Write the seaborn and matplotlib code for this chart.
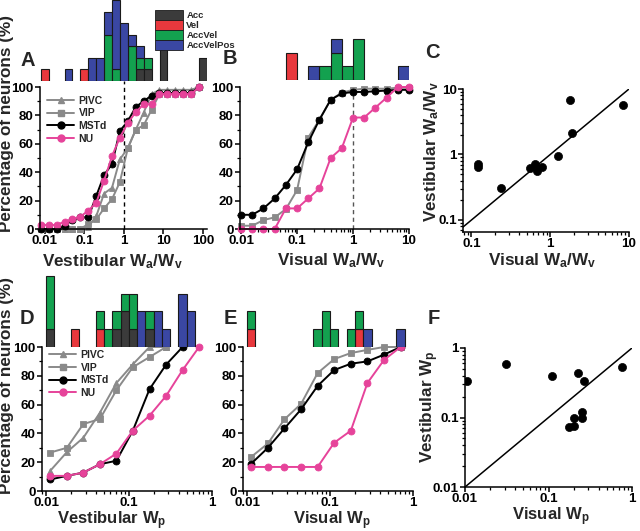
import numpy as np
import matplotlib
matplotlib.use('Agg')
import matplotlib.pyplot as plt
import seaborn as sns
from matplotlib.patches import Patch
from matplotlib.lines import Line2D
from matplotlib.ticker import FixedLocator, LogLocator, NullFormatter, MultipleLocator

sns.set_style('ticks')
plt.rcParams['font.family'] = ['Liberation Sans', 'DejaVu Sans']
plt.rcParams['font.weight'] = 'bold'
plt.rcParams['axes.labelweight'] = 'bold'
plt.rcParams['mathtext.fontset'] = 'custom'
plt.rcParams['mathtext.rm'] = 'Liberation Sans:bold'
plt.rcParams['mathtext.it'] = 'Liberation Sans:bold'
plt.rcParams['mathtext.bf'] = 'Liberation Sans:bold'

# ---------------- data ----------------
# Panel A: vestibular Wa/Wv cumulative distributions
A_x = [0.0079, 0.0126, 0.02, 0.0316, 0.05, 0.079, 0.126, 0.2, 0.316, 0.5, 0.79,
       1.26, 2.0, 3.16, 5.0, 7.9, 12.6, 20, 31.6, 50, 79]
A_pivc = [0, 0, 0, 0, 0, 0, 1.6, 9, 25, 29, 49, 57, 70, 82, 95, 98, 98, 98, 98, 98, 100]
A_vip = [0, 0, 0, 0, 0, 0, 3.5, 6.8, 14.5, 21, 33, 57, 70, 73, 84, 95, 95, 95, 95, 95, 100]
A_mstd = [0, 0, 0, 2.3, 6.3, 8.2, 8.2, 23.2, 38, 45.7, 69, 76, 86, 90, 94, 95.8, 95.8, 95.8, 95.8, 95.8, 100]
A_nu = [2.8, 2.8, 2.8, 5.2, 6.8, 8.7, 12.9, 18.5, 34, 51.3, 64.4, 74.7, 82.4, 87.8, 87.8, 95, 95, 95, 95, 95, 100]

# Panel A histogram (log10 left bin edges, width 0.2 decade)
A_bins = [-2.1, -1.5, -1.1, -0.9, -0.7, -0.5, -0.3, -0.1, 0.1, 0.3, 0.5, 0.9, 1.9]
A_acc = [0, 0, 0, 0, 0, 0, 0, 0, 0, 1, 1, 3, 2]
A_vel = [1, 0, 1, 0, 0, 0, 0, 0, 0, 0, 0, 0, 0]
A_accvel = [0, 0, 0, 0, 0, 4, 1, 0, 3, 1, 1, 0, 0]
A_avp = [0, 1, 0, 2, 2, 2, 6, 5, 1, 1, 0, 0, 0]

# Panel B: visual Wa/Wv
B_x = [0.01, 0.0158, 0.0251, 0.0398, 0.0631, 0.1, 0.158, 0.251, 0.398, 0.631,
       1.0, 1.58, 2.51, 3.98, 6.31, 10]
B_vip = [2.3, 2.3, 6.3, 8.2, 14, 27.4, 64.4, 77, 91, 96, 98, 98.8, 98.8, 98.8, 99.5, 99.5]
B_mstd = [10, 10, 14.5, 21.5, 31, 42, 61, 77, 91, 95.5, 96.5, 96.5, 97, 97.5, 98, 98]
B_nu = [0, 0, 0, 0, 14.5, 14.5, 21.5, 28.6, 50, 57, 78.5, 78.5, 85.5, 92.5, 100, 100]

B_bins = [-1.2, -0.8, -0.6, -0.4, -0.2, 0.0, 0.8]
B_acc = [0, 0, 0, 0, 0, 0, 0]
B_vel = [2, 0, 0, 0, 0, 0, 0]
B_accvel = [0, 0, 1, 2, 1, 3, 0]
B_avp = [0, 1, 0, 1, 0, 0, 1]

# Panel C: visual vs vestibular Wa/Wv
C_vis = [0.12, 0.12, 0.24, 0.56, 0.64, 0.67, 0.78, 1.26, 1.79, 1.88, 8.3]
C_ves = [0.71, 0.65, 0.31, 0.63, 0.71, 0.56, 0.65, 0.95, 6.85, 2.15, 5.74]

# Panel D: vestibular Wp
D_x = [0.0112, 0.0178, 0.0282, 0.0447, 0.0708, 0.112, 0.178, 0.282, 0.447, 0.708]
D_pivc = [14, 27, 37, 54.4, 75, 88, 100, 100]
D_vip = [26.7, 30, 46.5, 50, 70, 86, 93, 100]
D_mstd = [8, 10.5, 12.8, 18.6, 21, 42, 70.7, 87.7, 100]
D_nu = [10.5, 10.5, 12.8, 18.6, 26, 42, 52.3, 66, 84, 100]

D_bins = [-2.0, -1.7, -1.4, -1.3, -1.2, -1.1, -1.0, -0.9, -0.8, -0.7, -0.6, -0.4, -0.3]
D_acc = [1, 0, 0, 0, 1, 2, 1, 0, 1, 0, 0, 0, 0]
D_vel = [0, 1, 1, 0, 0, 0, 0, 0, 0, 0, 0, 0, 0]
D_accvel = [3, 0, 1, 1, 1, 1, 2, 0, 1, 0, 0, 0, 0]
D_avp = [0, 0, 0, 0, 0, 0, 0, 2, 0, 2, 1, 3, 2]

# Panel E: visual Wp
E_vip = [23.7, 33, 49.8, 60.5, 81.9, 91.6, 95.8, 98, 100, 100]
E_mstd = [19, 30, 43.5, 56.7, 73, 84, 88.4, 90, 94.7, 100]
E_nu = [16.7, 16.7, 16.7, 16.7, 16.7, 33.5, 41.9, 75, 91, 100]

E_bins = [-2.0, -1.2, -1.1, -1.0, -0.8, -0.7, -0.6, -0.2]
E_acc = [0, 0, 0, 0, 0, 0, 0, 0]
E_vel = [1, 0, 0, 0, 0, 1, 0, 0]
E_accvel = [1, 1, 2, 1, 1, 1, 0, 0]
E_avp = [0, 0, 0, 0, 0, 0, 1, 1]

# Panel F: visual vs vestibular Wp
F_vis = [0.0105, 0.031, 0.11, 0.223, 0.263, 0.75, 0.25, 0.25, 0.203, 0.203, 0.174]
F_ves = [0.337, 0.58, 0.40, 0.435, 0.337, 0.525, 0.121, 0.10, 0.10, 0.076, 0.072]

hist_labels = ['Acc', 'Vel', 'AccVel', 'AccVelPos']
hist_colors = ['#3b3b3b', '#e8383d', '#13a14f', '#3a47a3']
GRAY = '#8a8a8a'
PINK = '#e6439a'

# ---------------- figure ----------------
W, H = 640, 531
fig = plt.figure(figsize=(6.4, 5.31), dpi=100)


def add_ax(l, r, t, b):
    return fig.add_axes([l / W, 1 - b / H, (r - l) / W, (b - t) / H])


def style_main(ax, xlim, xticks, xticklabels, ylim=(0, 100), yticks=None, yticklabels=None, ylog=False):
    ax.set_xscale('log')
    ax.set_xlim(*xlim)
    ax.xaxis.set_major_locator(FixedLocator(xticks))
    ax.set_xticklabels(xticklabels)
    ax.xaxis.set_minor_locator(LogLocator(base=10, subs=np.arange(2, 10)))
    ax.xaxis.set_minor_formatter(NullFormatter())
    if ylog:
        ax.set_yscale('log')
        ax.set_ylim(*ylim)
        ax.yaxis.set_major_locator(FixedLocator(yticks))
        ax.set_yticklabels(yticklabels)
        ax.yaxis.set_minor_locator(LogLocator(base=10, subs=np.arange(2, 10)))
        ax.yaxis.set_minor_formatter(NullFormatter())
    else:
        ax.set_ylim(*ylim)
        ax.yaxis.set_major_locator(FixedLocator([0, 20, 40, 60, 80, 100]))
        ax.yaxis.set_minor_locator(MultipleLocator(10))
    for s in ['top', 'right']:
        ax.spines[s].set_visible(False)
    for s in ['left', 'bottom']:
        ax.spines[s].set_linewidth(1.1)
        ax.spines[s].set_color('black')
    ax.tick_params(which='major', direction='out', length=3.5, width=1.1, labelsize=9.6, pad=1.0, colors='black')
    ax.tick_params(which='minor', direction='out', length=2, width=0.9, colors='black')
    for lab in ax.get_xticklabels() + ax.get_yticklabels():
        lab.set_fontweight('bold')
    ax.set_xlabel('')
    ax.set_ylabel('')


def curve(ax, x, y, color, marker):
    sns.lineplot(x=x[:len(y)], y=y, ax=ax, color=color, marker=marker, markersize=5,
                 markeredgecolor=color, markeredgewidth=0.6, linewidth=1.4,
                 clip_on=False, legend=False)


def hist(ax, bins, stacks, xlim, ylim, width):
    edges = np.array(bins, dtype=float)
    left = 10 ** edges
    widths = 10 ** (edges + width) - left
    bottom = np.zeros(len(bins))
    for counts, color in zip(stacks, hist_colors):
        c = np.array(counts, dtype=float)
        m = c > 0
        ax.bar(left[m], c[m], width=widths[m], bottom=bottom[m], align='edge',
               color=color, edgecolor='#1a1a1a', linewidth=0.8)
        bottom += c
    ax.set_xscale('log')
    ax.set_xlim(*xlim)
    ax.set_ylim(*ylim)
    ax.axis('off')


def line_legend(ax, loc_xy):
    handles = [Line2D([], [], color=GRAY, marker='^', markersize=5, lw=1.4),
               Line2D([], [], color=GRAY, marker='s', markersize=5, lw=1.4),
               Line2D([], [], color='black', marker='o', markersize=5, lw=1.4),
               Line2D([], [], color=PINK, marker='o', markersize=5, lw=1.4)]
    ax.legend(handles, ['PIVC', 'VIP', 'MSTd', 'NU'], loc='upper left', bbox_to_anchor=loc_xy,
              frameon=False, prop={'size': 7.5, 'weight': 'bold'}, handlelength=2.6,
              labelspacing=0.25, borderpad=0.2, handletextpad=0.4)


LBL = 12.3
LETTER = 14.5

# ---- Panel A ----
A_xlim = (10 ** -2.12, 10 ** 2.1)
axA = add_ax(40, 207, 87, 229)
curve(axA, A_x, A_pivc, GRAY, '^')
curve(axA, A_x, A_vip, GRAY, 's')
curve(axA, A_x, A_mstd, 'black', 'o')
curve(axA, A_x, A_nu, PINK, 'o')
axA.axvline(1, ymin=0, ymax=1.045, color='black', ls='--', lw=1, dashes=(3, 2.5), clip_on=False, zorder=1)
style_main(axA, A_xlim, [0.01, 0.1, 1, 10, 100], ['0.01', '0.1', '1', '10', '100'])
line_legend(axA, (0.0, 0.99))

axAh = add_ax(40, 207, 0, 81)
hist(axAh, A_bins, [A_acc, A_vel, A_accvel, A_avp], A_xlim, (0, 7.0), 0.2)
leg_handles = [Patch(facecolor=c, edgecolor='#1a1a1a', lw=0.6) for c in hist_colors]
fig.legend(leg_handles, hist_labels, loc='upper left', bbox_to_anchor=(150 / W, 1 - 5 / H),
           frameon=False, prop={'size': 6.8, 'weight': 'bold'}, handlelength=3.0, handleheight=1.25,
           labelspacing=0.0, borderpad=0.0, handletextpad=0.35)

# ---- Panel B ----
B_xlim = (10 ** -2.02, 10 ** 1.0)
axB = add_ax(240, 409, 87, 229)
curve(axB, B_x, B_vip, GRAY, 's')
curve(axB, B_x, B_mstd, 'black', 'o')
curve(axB, B_x, B_nu, PINK, 'o')
axB.axvline(1, ymin=0, ymax=1.0, color='#555555', ls='--', lw=1, dashes=(3, 2.5), zorder=1)
style_main(axB, B_xlim, [0.01, 0.1, 1, 10], ['0.01', '0.1', '1', '10'])

axBh = add_ax(240, 409, 0, 80)
hist(axBh, B_bins, [B_acc, B_vel, B_accvel, B_avp], B_xlim, (0, 80 / 13.6), 0.2)

# ---- Panel C ----
axC = add_ax(463, 629, 89, 232)
sns.scatterplot(x=C_vis, y=C_ves, ax=axC, color='black', s=34, edgecolor='black', linewidth=0.5, zorder=3)
axC.plot([0.05, 10], [0.05, 10], color='black', lw=1.1)
style_main(axC, (0.078, 10), [0.1, 1, 10], ['0.1', '1', '10'], ylim=(0.0655, 10),
           yticks=[0.1, 1, 10], yticklabels=['0.1', '1', '10'], ylog=True)

# ---- Panel D ----
D_xlim = (10 ** -2.05, 1.0)
axD = add_ax(42, 211.5, 347, 491)
curve(axD, D_x, D_pivc, GRAY, '^')
curve(axD, D_x, D_vip, GRAY, 's')
curve(axD, D_x, D_mstd, 'black', 'o')
curve(axD, D_x, D_nu, PINK, 'o')
style_main(axD, D_xlim, [0.01, 0.1, 1], ['0.01', '0.1', '1'])
line_legend(axD, (0.0, 1.03))

axDh = add_ax(42, 211.5, 270, 346.7)
hist(axDh, D_bins, [D_acc, D_vel, D_accvel, D_avp], D_xlim, (0, 76.7 / 17.7), 0.1)

# ---- Panel E ----
axE = add_ax(243, 413, 347, 491)
curve(axE, D_x, E_vip, GRAY, 's')
curve(axE, D_x, E_mstd, 'black', 'o')
curve(axE, D_x, E_nu, PINK, 'o')
style_main(axE, D_xlim, [0.01, 0.1, 1], ['0.01', '0.1', '1'])

axEh = add_ax(243, 413, 270, 346.7)
hist(axEh, E_bins, [E_acc, E_vel, E_accvel, E_avp], D_xlim, (0, 76.7 / 17.7), 0.1)

# ---- Panel F ----
axF = add_ax(465, 632, 348, 487)
sns.scatterplot(x=F_vis, y=F_ves, ax=axF, color='black', s=34, edgecolor='black', linewidth=0.5, zorder=3)
axF.plot([0.01, 1], [0.01, 1], color='black', lw=1.1)
style_main(axF, (0.01, 1), [0.01, 0.1, 1], ['0.01', '0.1', '1'], ylim=(0.01, 1),
           yticks=[0.01, 0.1, 1], yticklabels=['0.01', '0.1', '1'], ylog=True)

# ---- axis labels (figure text) ----
def ftext(x, y, s, **kw):
    fig.text(x / W, 1 - y / H, s, fontweight='bold', **kw)

ftext(112, 252, r'Vestibular W$_a$/W$_v$', fontsize=LBL, ha='center', va='top')
ftext(331, 251, r'Visual W$_a$/W$_v$', fontsize=LBL, ha='center', va='top')
ftext(542, 251, r'Visual W$_a$/W$_v$', fontsize=LBL, ha='center', va='top')
ftext(112, 509, r'Vestibular W$_p$', fontsize=12, ha='center', va='top')
ftext(332, 509, r'Visual W$_p$', fontsize=12, ha='center', va='top')
ftext(551, 505, r'Visual W$_p$', fontsize=12, ha='center', va='top')

ftext(7, 124, 'Percentage of neurons (%)', fontsize=LBL, ha='center', va='center', rotation=90)
ftext(7, 385, 'Percentage of neurons (%)', fontsize=LBL, ha='center', va='center', rotation=90)
ftext(432, 152, r'Vestibular W$_a$/W$_v$', fontsize=LBL, ha='center', va='center', rotation=90)
ftext(430, 407, r'Vestibular W$_p$', fontsize=LBL, ha='center', va='center', rotation=90)

# panel letters
for letter, (x, y) in {'A': (28, 60), 'B': (230, 58), 'C': (432, 52),
                       'D': (27, 318), 'E': (230, 318), 'F': (434, 319)}.items():
    ftext(x, y, letter, fontsize=LETTER, ha='center', va='center')

fig.savefig('out.png', dpi=100)
